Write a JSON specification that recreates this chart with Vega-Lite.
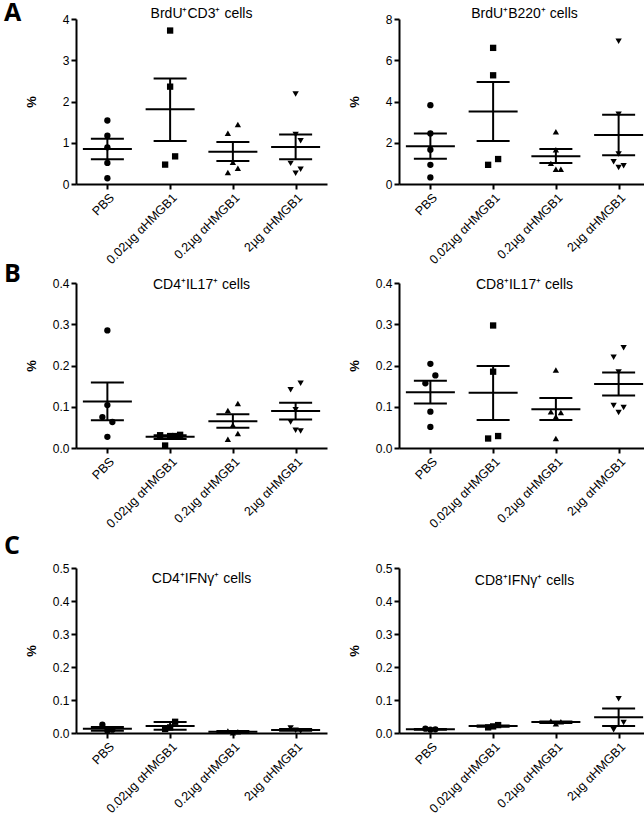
{
  "$schema": "https://vega.github.io/schema/vega-lite/v6.json",
  "padding": {"left": 4, "top": 1, "right": 0, "bottom": 0},
  "spacing": 3,
  "config": {
    "view": {"stroke": null},
    "font": "Liberation Sans",
    "axis": {"domainColor": "black", "domainWidth": 2, "tickColor": "black", "tickWidth": 2, "tickSize": 5, "labelColor": "black", "labelFontSize": 12, "labelFont": "Liberation Sans", "grid": false, "titleColor": "black", "labelOverlap": false},
    "axisY": {"minExtent": 26, "maxExtent": 26, "titlePadding": 12, "titleFontSize": 13, "titleFontWeight": "bold", "labelPadding": 2},
    "axisX": {"labelAngle": -45, "labelFontSize": 12.5},
    "title": {"fontSize": 14, "fontWeight": "normal", "color": "black", "font": "Liberation Sans"}
  },
  "datasets": {
    "pts": [
      {"p": 1, "g": "PBS", "v": 1.54, "o": 0}, {"p": 1, "g": "PBS", "v": 1.17, "o": 0}, {"p": 1, "g": "PBS", "v": 0.89, "o": 0}, {"p": 1, "g": "PBS", "v": 0.51, "o": 0}, {"p": 1, "g": "PBS", "v": 0.14, "o": 0},
      {"p": 1, "g": "0.02µg αHMGB1", "v": 3.72, "o": 0}, {"p": 1, "g": "0.02µg αHMGB1", "v": 2.36, "o": 0}, {"p": 1, "g": "0.02µg αHMGB1", "v": 0.67, "o": 1}, {"p": 1, "g": "0.02µg αHMGB1", "v": 0.47, "o": -1},
      {"p": 1, "g": "0.2µg αHMGB1", "v": 1.44, "o": 1}, {"p": 1, "g": "0.2µg αHMGB1", "v": 1.23, "o": -1}, {"p": 1, "g": "0.2µg αHMGB1", "v": 0.53, "o": 0}, {"p": 1, "g": "0.2µg αHMGB1", "v": 0.28, "o": -1}, {"p": 1, "g": "0.2µg αHMGB1", "v": 0.38, "o": 1},
      {"p": 1, "g": "2µg αHMGB1", "v": 2.18, "o": 0}, {"p": 1, "g": "2µg αHMGB1", "v": 1.20, "o": 0}, {"p": 1, "g": "2µg αHMGB1", "v": 1.05, "o": 1}, {"p": 1, "g": "2µg αHMGB1", "v": 0.50, "o": -1}, {"p": 1, "g": "2µg αHMGB1", "v": 0.26, "o": 0}, {"p": 1, "g": "2µg αHMGB1", "v": 0.36, "o": 1},

      {"p": 2, "g": "PBS", "v": 3.82, "o": 0}, {"p": 2, "g": "PBS", "v": 2.45, "o": 0}, {"p": 2, "g": "PBS", "v": 1.66, "o": 0}, {"p": 2, "g": "PBS", "v": 0.93, "o": 0}, {"p": 2, "g": "PBS", "v": 0.32, "o": 0},
      {"p": 2, "g": "0.02µg αHMGB1", "v": 6.6, "o": 0}, {"p": 2, "g": "0.02µg αHMGB1", "v": 5.27, "o": 0}, {"p": 2, "g": "0.02µg αHMGB1", "v": 1.21, "o": 1}, {"p": 2, "g": "0.02µg αHMGB1", "v": 0.93, "o": -1},
      {"p": 2, "g": "0.2µg αHMGB1", "v": 2.53, "o": 0}, {"p": 2, "g": "0.2µg αHMGB1", "v": 1.66, "o": 0}, {"p": 2, "g": "0.2µg αHMGB1", "v": 1.0, "o": -1}, {"p": 2, "g": "0.2µg αHMGB1", "v": 0.72, "o": 0}, {"p": 2, "g": "0.2µg αHMGB1", "v": 0.72, "o": 1},
      {"p": 2, "g": "2µg αHMGB1", "v": 6.92, "o": 0}, {"p": 2, "g": "2µg αHMGB1", "v": 3.38, "o": 0}, {"p": 2, "g": "2µg αHMGB1", "v": 1.45, "o": 0}, {"p": 2, "g": "2µg αHMGB1", "v": 1.08, "o": -1}, {"p": 2, "g": "2µg αHMGB1", "v": 0.80, "o": 0}, {"p": 2, "g": "2µg αHMGB1", "v": 0.88, "o": 1},

      {"p": 3, "g": "PBS", "v": 0.285, "o": 0}, {"p": 3, "g": "PBS", "v": 0.104, "o": 0}, {"p": 3, "g": "PBS", "v": 0.075, "o": -1}, {"p": 3, "g": "PBS", "v": 0.063, "o": 1}, {"p": 3, "g": "PBS", "v": 0.027, "o": 0},
      {"p": 3, "g": "0.02µg αHMGB1", "v": 0.031, "o": -2}, {"p": 3, "g": "0.02µg αHMGB1", "v": 0.029, "o": 0}, {"p": 3, "g": "0.02µg αHMGB1", "v": 0.029, "o": 1}, {"p": 3, "g": "0.02µg αHMGB1", "v": 0.032, "o": 2}, {"p": 3, "g": "0.02µg αHMGB1", "v": 0.006, "o": -1},
      {"p": 3, "g": "0.2µg αHMGB1", "v": 0.108, "o": 1}, {"p": 3, "g": "0.2µg αHMGB1", "v": 0.091, "o": -1}, {"p": 3, "g": "0.2µg αHMGB1", "v": 0.056, "o": 0}, {"p": 3, "g": "0.2µg αHMGB1", "v": 0.035, "o": 1}, {"p": 3, "g": "0.2µg αHMGB1", "v": 0.021, "o": -1},
      {"p": 3, "g": "2µg αHMGB1", "v": 0.157, "o": 1}, {"p": 3, "g": "2µg αHMGB1", "v": 0.141, "o": -1}, {"p": 3, "g": "2µg αHMGB1", "v": 0.093, "o": 0}, {"p": 3, "g": "2µg αHMGB1", "v": 0.063, "o": -1}, {"p": 3, "g": "2µg αHMGB1", "v": 0.043, "o": 0}, {"p": 3, "g": "2µg αHMGB1", "v": 0.041, "o": 1},

      {"p": 4, "g": "PBS", "v": 0.204, "o": 0}, {"p": 4, "g": "PBS", "v": 0.176, "o": 1}, {"p": 4, "g": "PBS", "v": 0.157, "o": -1}, {"p": 4, "g": "PBS", "v": 0.088, "o": 0}, {"p": 4, "g": "PBS", "v": 0.051, "o": 0},
      {"p": 4, "g": "0.02µg αHMGB1", "v": 0.297, "o": 0}, {"p": 4, "g": "0.02µg αHMGB1", "v": 0.185, "o": 0}, {"p": 4, "g": "0.02µg αHMGB1", "v": 0.029, "o": 1}, {"p": 4, "g": "0.02µg αHMGB1", "v": 0.023, "o": -1},
      {"p": 4, "g": "0.2µg αHMGB1", "v": 0.189, "o": 0}, {"p": 4, "g": "0.2µg αHMGB1", "v": 0.088, "o": -1}, {"p": 4, "g": "0.2µg αHMGB1", "v": 0.076, "o": 0}, {"p": 4, "g": "0.2µg αHMGB1", "v": 0.086, "o": 1}, {"p": 4, "g": "0.2µg αHMGB1", "v": 0.023, "o": 0},
      {"p": 4, "g": "2µg αHMGB1", "v": 0.243, "o": 1}, {"p": 4, "g": "2µg αHMGB1", "v": 0.220, "o": -1}, {"p": 4, "g": "2µg αHMGB1", "v": 0.184, "o": 0}, {"p": 4, "g": "2µg αHMGB1", "v": 0.103, "o": -1}, {"p": 4, "g": "2µg αHMGB1", "v": 0.086, "o": 0}, {"p": 4, "g": "2µg αHMGB1", "v": 0.098, "o": 1},

      {"p": 5, "g": "PBS", "v": 0.025, "o": -1}, {"p": 5, "g": "PBS", "v": 0.007, "o": 0}, {"p": 5, "g": "PBS", "v": 0.010, "o": 1},
      {"p": 5, "g": "0.02µg αHMGB1", "v": 0.034, "o": 1}, {"p": 5, "g": "0.02µg αHMGB1", "v": 0.012, "o": -1}, {"p": 5, "g": "0.02µg αHMGB1", "v": 0.017, "o": 0},
      {"p": 5, "g": "0.2µg αHMGB1", "v": 0.006, "o": -1}, {"p": 5, "g": "0.2µg αHMGB1", "v": 0.001, "o": 0}, {"p": 5, "g": "0.2µg αHMGB1", "v": 0.004, "o": 1},
      {"p": 5, "g": "2µg αHMGB1", "v": 0.015, "o": -1}, {"p": 5, "g": "2µg αHMGB1", "v": 0.008, "o": 0}, {"p": 5, "g": "2µg αHMGB1", "v": 0.006, "o": 1},

      {"p": 6, "g": "PBS", "v": 0.013, "o": -1}, {"p": 6, "g": "PBS", "v": 0.010, "o": 0}, {"p": 6, "g": "PBS", "v": 0.011, "o": 1},
      {"p": 6, "g": "0.02µg αHMGB1", "v": 0.024, "o": 1}, {"p": 6, "g": "0.02µg αHMGB1", "v": 0.017, "o": -1}, {"p": 6, "g": "0.02µg αHMGB1", "v": 0.020, "o": 0},
      {"p": 6, "g": "0.2µg αHMGB1", "v": 0.036, "o": -1}, {"p": 6, "g": "0.2µg αHMGB1", "v": 0.034, "o": 1}, {"p": 6, "g": "0.2µg αHMGB1", "v": 0.028, "o": 0},
      {"p": 6, "g": "2µg αHMGB1", "v": 0.104, "o": 0}, {"p": 6, "g": "2µg αHMGB1", "v": 0.032, "o": 1}, {"p": 6, "g": "2µg αHMGB1", "v": 0.010, "o": -1}
    ],
    "sum": [
      {"p": 1, "g": "PBS", "m": 0.85, "lo": 0.60, "hi": 1.10},
      {"p": 1, "g": "0.02µg αHMGB1", "m": 1.81, "lo": 1.04, "hi": 2.56},
      {"p": 1, "g": "0.2µg αHMGB1", "m": 0.78, "lo": 0.56, "hi": 1.02},
      {"p": 1, "g": "2µg αHMGB1", "m": 0.90, "lo": 0.60, "hi": 1.20},
      {"p": 2, "g": "PBS", "m": 1.83, "lo": 1.22, "hi": 2.45},
      {"p": 2, "g": "0.02µg αHMGB1", "m": 3.51, "lo": 2.08, "hi": 4.95},
      {"p": 2, "g": "0.2µg αHMGB1", "m": 1.35, "lo": 1.02, "hi": 1.70},
      {"p": 2, "g": "2µg αHMGB1", "m": 2.38, "lo": 1.40, "hi": 3.36},
      {"p": 3, "g": "PBS", "m": 0.113, "lo": 0.067, "hi": 0.159},
      {"p": 3, "g": "0.02µg αHMGB1", "m": 0.027, "lo": 0.022, "hi": 0.031},
      {"p": 3, "g": "0.2µg αHMGB1", "m": 0.065, "lo": 0.049, "hi": 0.082},
      {"p": 3, "g": "2µg αHMGB1", "m": 0.090, "lo": 0.069, "hi": 0.110},
      {"p": 4, "g": "PBS", "m": 0.135, "lo": 0.108, "hi": 0.163},
      {"p": 4, "g": "0.02µg αHMGB1", "m": 0.134, "lo": 0.068, "hi": 0.199},
      {"p": 4, "g": "0.2µg αHMGB1", "m": 0.094, "lo": 0.068, "hi": 0.121},
      {"p": 4, "g": "2µg αHMGB1", "m": 0.155, "lo": 0.127, "hi": 0.183},
      {"p": 5, "g": "PBS", "m": 0.013, "lo": 0.007, "hi": 0.018},
      {"p": 5, "g": "0.02µg αHMGB1", "m": 0.021, "lo": 0.010, "hi": 0.033},
      {"p": 5, "g": "0.2µg αHMGB1", "m": 0.004, "lo": 0.002, "hi": 0.006},
      {"p": 5, "g": "2µg αHMGB1", "m": 0.009, "lo": 0.007, "hi": 0.012},
      {"p": 6, "g": "PBS", "m": 0.011, "lo": 0.010, "hi": 0.012},
      {"p": 6, "g": "0.02µg αHMGB1", "m": 0.021, "lo": 0.019, "hi": 0.023},
      {"p": 6, "g": "0.2µg αHMGB1", "m": 0.033, "lo": 0.030, "hi": 0.035},
      {"p": 6, "g": "2µg αHMGB1", "m": 0.048, "lo": 0.021, "hi": 0.074}
    ]
  },
  "vconcat": [
    {
      "spacing": -5,
      "vconcat": [
        {
          "title": {"text": "A", "anchor": "start", "frame": "group", "fontSize": 25, "fontWeight": "bold", "font": "Open Sans", "dx": -72, "offset": -19},
          "spacing": 21,
          "hconcat": [
            {
              "width": 251, "height": 165,
              "title": {"text": "BrdU⁺CD3⁺ cells", "offset": -8},
              "layer": [
                {"data": {"name": "pts"}, "transform": [{"filter": "datum.p == 1"}],
                 "mark": {"type": "point", "filled": true, "size": 40, "opacity": 1, "color": "black"},
                 "encoding": {
                   "x": {"field": "g", "type": "nominal", "title": null, "sort": ["PBS", "0.02µg αHMGB1", "0.2µg αHMGB1", "2µg αHMGB1"], "scale": {"type": "point", "padding": 0.5}},
                   "xOffset": {"field": "o", "type": "quantitative", "scale": {"domain": [-2, 2], "range": [-10, 10]}},
                   "y": {"field": "v", "type": "quantitative", "title": "%", "scale": {"domain": [0, 4], "nice": false}, "axis": {"values": [0, 1, 2, 3, 4], "format": "d"}},
                   "shape": {"field": "g", "type": "nominal", "scale": {"domain": ["PBS", "0.02µg αHMGB1", "0.2µg αHMGB1", "2µg αHMGB1"], "range": ["circle", "square", "triangle-up", "triangle-down"]}, "legend": null}
                 }},
                {"data": {"name": "sum"}, "transform": [{"filter": "datum.p == 1"}],
                 "mark": {"type": "rule", "strokeWidth": 2, "color": "black"},
                 "encoding": {"x": {"field": "g", "type": "nominal", "title": null, "sort": ["PBS", "0.02µg αHMGB1", "0.2µg αHMGB1", "2µg αHMGB1"]}, "y": {"field": "lo", "type": "quantitative", "title": "%", "axis": {"values": [0, 1, 2, 3, 4], "format": "d"}}, "y2": {"field": "hi"}}},
                {"data": {"name": "sum"}, "transform": [{"filter": "datum.p == 1"}],
                 "mark": {"type": "tick", "size": 49, "thickness": 2, "color": "black", "opacity": 1},
                 "encoding": {"x": {"field": "g", "type": "nominal", "title": null, "sort": ["PBS", "0.02µg αHMGB1", "0.2µg αHMGB1", "2µg αHMGB1"]}, "y": {"field": "m", "type": "quantitative", "title": "%", "axis": {"values": [0, 1, 2, 3, 4], "format": "d"}}}},
                {"data": {"name": "sum"}, "transform": [{"filter": "datum.p == 1"}],
                 "mark": {"type": "tick", "size": 33, "thickness": 2, "color": "black", "opacity": 1},
                 "encoding": {"x": {"field": "g", "type": "nominal", "title": null, "sort": ["PBS", "0.02µg αHMGB1", "0.2µg αHMGB1", "2µg αHMGB1"]}, "y": {"field": "lo", "type": "quantitative", "title": "%", "axis": {"values": [0, 1, 2, 3, 4], "format": "d"}}}},
                {"data": {"name": "sum"}, "transform": [{"filter": "datum.p == 1"}],
                 "mark": {"type": "tick", "size": 33, "thickness": 2, "color": "black", "opacity": 1},
                 "encoding": {"x": {"field": "g", "type": "nominal", "title": null, "sort": ["PBS", "0.02µg αHMGB1", "0.2µg αHMGB1", "2µg αHMGB1"]}, "y": {"field": "hi", "type": "quantitative", "title": "%", "axis": {"values": [0, 1, 2, 3, 4], "format": "d"}}}}
              ]
            },
            {
              "width": 251, "height": 165,
              "title": {"text": "BrdU⁺B220⁺ cells", "offset": -8},
              "layer": [
                {"data": {"name": "pts"}, "transform": [{"filter": "datum.p == 2"}],
                 "mark": {"type": "point", "filled": true, "size": 40, "opacity": 1, "color": "black"},
                 "encoding": {
                   "x": {"field": "g", "type": "nominal", "title": null, "sort": ["PBS", "0.02µg αHMGB1", "0.2µg αHMGB1", "2µg αHMGB1"], "scale": {"type": "point", "padding": 0.5}},
                   "xOffset": {"field": "o", "type": "quantitative", "scale": {"domain": [-2, 2], "range": [-10, 10]}},
                   "y": {"field": "v", "type": "quantitative", "title": "%", "scale": {"domain": [0, 8], "nice": false}, "axis": {"values": [0, 2, 4, 6, 8], "format": "d"}},
                   "shape": {"field": "g", "type": "nominal", "scale": {"domain": ["PBS", "0.02µg αHMGB1", "0.2µg αHMGB1", "2µg αHMGB1"], "range": ["circle", "square", "triangle-up", "triangle-down"]}, "legend": null}
                 }},
                {"data": {"name": "sum"}, "transform": [{"filter": "datum.p == 2"}],
                 "mark": {"type": "rule", "strokeWidth": 2, "color": "black"},
                 "encoding": {"x": {"field": "g", "type": "nominal", "title": null, "sort": ["PBS", "0.02µg αHMGB1", "0.2µg αHMGB1", "2µg αHMGB1"]}, "y": {"field": "lo", "type": "quantitative", "title": "%", "axis": {"values": [0, 2, 4, 6, 8], "format": "d"}}, "y2": {"field": "hi"}}},
                {"data": {"name": "sum"}, "transform": [{"filter": "datum.p == 2"}],
                 "mark": {"type": "tick", "size": 49, "thickness": 2, "color": "black", "opacity": 1},
                 "encoding": {"x": {"field": "g", "type": "nominal", "title": null, "sort": ["PBS", "0.02µg αHMGB1", "0.2µg αHMGB1", "2µg αHMGB1"]}, "y": {"field": "m", "type": "quantitative", "title": "%", "axis": {"values": [0, 2, 4, 6, 8], "format": "d"}}}},
                {"data": {"name": "sum"}, "transform": [{"filter": "datum.p == 2"}],
                 "mark": {"type": "tick", "size": 33, "thickness": 2, "color": "black", "opacity": 1},
                 "encoding": {"x": {"field": "g", "type": "nominal", "title": null, "sort": ["PBS", "0.02µg αHMGB1", "0.2µg αHMGB1", "2µg αHMGB1"]}, "y": {"field": "lo", "type": "quantitative", "title": "%", "axis": {"values": [0, 2, 4, 6, 8], "format": "d"}}}},
                {"data": {"name": "sum"}, "transform": [{"filter": "datum.p == 2"}],
                 "mark": {"type": "tick", "size": 33, "thickness": 2, "color": "black", "opacity": 1},
                 "encoding": {"x": {"field": "g", "type": "nominal", "title": null, "sort": ["PBS", "0.02µg αHMGB1", "0.2µg αHMGB1", "2µg αHMGB1"]}, "y": {"field": "hi", "type": "quantitative", "title": "%", "axis": {"values": [0, 2, 4, 6, 8], "format": "d"}}}}
              ]
            }
          ]
        },
        {
          "title": {"text": "B", "anchor": "start", "frame": "group", "fontSize": 25, "fontWeight": "bold", "font": "Open Sans", "dx": -72, "offset": -10},
          "spacing": 21,
          "hconcat": [
            {
              "width": 251, "height": 165,
              "title": {"text": "CD4⁺IL17⁺ cells", "offset": -15},
              "layer": [
                {"data": {"name": "pts"}, "transform": [{"filter": "datum.p == 3"}],
                 "mark": {"type": "point", "filled": true, "size": 40, "opacity": 1, "color": "black"},
                 "encoding": {
                   "x": {"field": "g", "type": "nominal", "title": null, "sort": ["PBS", "0.02µg αHMGB1", "0.2µg αHMGB1", "2µg αHMGB1"], "scale": {"type": "point", "padding": 0.5}},
                   "xOffset": {"field": "o", "type": "quantitative", "scale": {"domain": [-2, 2], "range": [-10, 10]}},
                   "y": {"field": "v", "type": "quantitative", "title": "%", "scale": {"domain": [0, 0.4], "nice": false}, "axis": {"values": [0, 0.1, 0.2, 0.3, 0.4], "format": ".1f"}},
                   "shape": {"field": "g", "type": "nominal", "scale": {"domain": ["PBS", "0.02µg αHMGB1", "0.2µg αHMGB1", "2µg αHMGB1"], "range": ["circle", "square", "triangle-up", "triangle-down"]}, "legend": null}
                 }},
                {"data": {"name": "sum"}, "transform": [{"filter": "datum.p == 3"}],
                 "mark": {"type": "rule", "strokeWidth": 2, "color": "black"},
                 "encoding": {"x": {"field": "g", "type": "nominal", "title": null, "sort": ["PBS", "0.02µg αHMGB1", "0.2µg αHMGB1", "2µg αHMGB1"]}, "y": {"field": "lo", "type": "quantitative", "title": "%", "axis": {"values": [0, 0.1, 0.2, 0.3, 0.4], "format": ".1f"}}, "y2": {"field": "hi"}}},
                {"data": {"name": "sum"}, "transform": [{"filter": "datum.p == 3"}],
                 "mark": {"type": "tick", "size": 49, "thickness": 2, "color": "black", "opacity": 1},
                 "encoding": {"x": {"field": "g", "type": "nominal", "title": null, "sort": ["PBS", "0.02µg αHMGB1", "0.2µg αHMGB1", "2µg αHMGB1"]}, "y": {"field": "m", "type": "quantitative", "title": "%", "axis": {"values": [0, 0.1, 0.2, 0.3, 0.4], "format": ".1f"}}}},
                {"data": {"name": "sum"}, "transform": [{"filter": "datum.p == 3"}],
                 "mark": {"type": "tick", "size": 33, "thickness": 2, "color": "black", "opacity": 1},
                 "encoding": {"x": {"field": "g", "type": "nominal", "title": null, "sort": ["PBS", "0.02µg αHMGB1", "0.2µg αHMGB1", "2µg αHMGB1"]}, "y": {"field": "lo", "type": "quantitative", "title": "%", "axis": {"values": [0, 0.1, 0.2, 0.3, 0.4], "format": ".1f"}}}},
                {"data": {"name": "sum"}, "transform": [{"filter": "datum.p == 3"}],
                 "mark": {"type": "tick", "size": 33, "thickness": 2, "color": "black", "opacity": 1},
                 "encoding": {"x": {"field": "g", "type": "nominal", "title": null, "sort": ["PBS", "0.02µg αHMGB1", "0.2µg αHMGB1", "2µg αHMGB1"]}, "y": {"field": "hi", "type": "quantitative", "title": "%", "axis": {"values": [0, 0.1, 0.2, 0.3, 0.4], "format": ".1f"}}}}
              ]
            },
            {
              "width": 251, "height": 165,
              "title": {"text": "CD8⁺IL17⁺ cells", "offset": -15},
              "layer": [
                {"data": {"name": "pts"}, "transform": [{"filter": "datum.p == 4"}],
                 "mark": {"type": "point", "filled": true, "size": 40, "opacity": 1, "color": "black"},
                 "encoding": {
                   "x": {"field": "g", "type": "nominal", "title": null, "sort": ["PBS", "0.02µg αHMGB1", "0.2µg αHMGB1", "2µg αHMGB1"], "scale": {"type": "point", "padding": 0.5}},
                   "xOffset": {"field": "o", "type": "quantitative", "scale": {"domain": [-2, 2], "range": [-10, 10]}},
                   "y": {"field": "v", "type": "quantitative", "title": "%", "scale": {"domain": [0, 0.4], "nice": false}, "axis": {"values": [0, 0.1, 0.2, 0.3, 0.4], "format": ".1f"}},
                   "shape": {"field": "g", "type": "nominal", "scale": {"domain": ["PBS", "0.02µg αHMGB1", "0.2µg αHMGB1", "2µg αHMGB1"], "range": ["circle", "square", "triangle-up", "triangle-down"]}, "legend": null}
                 }},
                {"data": {"name": "sum"}, "transform": [{"filter": "datum.p == 4"}],
                 "mark": {"type": "rule", "strokeWidth": 2, "color": "black"},
                 "encoding": {"x": {"field": "g", "type": "nominal", "title": null, "sort": ["PBS", "0.02µg αHMGB1", "0.2µg αHMGB1", "2µg αHMGB1"]}, "y": {"field": "lo", "type": "quantitative", "title": "%", "axis": {"values": [0, 0.1, 0.2, 0.3, 0.4], "format": ".1f"}}, "y2": {"field": "hi"}}},
                {"data": {"name": "sum"}, "transform": [{"filter": "datum.p == 4"}],
                 "mark": {"type": "tick", "size": 49, "thickness": 2, "color": "black", "opacity": 1},
                 "encoding": {"x": {"field": "g", "type": "nominal", "title": null, "sort": ["PBS", "0.02µg αHMGB1", "0.2µg αHMGB1", "2µg αHMGB1"]}, "y": {"field": "m", "type": "quantitative", "title": "%", "axis": {"values": [0, 0.1, 0.2, 0.3, 0.4], "format": ".1f"}}}},
                {"data": {"name": "sum"}, "transform": [{"filter": "datum.p == 4"}],
                 "mark": {"type": "tick", "size": 33, "thickness": 2, "color": "black", "opacity": 1},
                 "encoding": {"x": {"field": "g", "type": "nominal", "title": null, "sort": ["PBS", "0.02µg αHMGB1", "0.2µg αHMGB1", "2µg αHMGB1"]}, "y": {"field": "lo", "type": "quantitative", "title": "%", "axis": {"values": [0, 0.1, 0.2, 0.3, 0.4], "format": ".1f"}}}},
                {"data": {"name": "sum"}, "transform": [{"filter": "datum.p == 4"}],
                 "mark": {"type": "tick", "size": 33, "thickness": 2, "color": "black", "opacity": 1},
                 "encoding": {"x": {"field": "g", "type": "nominal", "title": null, "sort": ["PBS", "0.02µg αHMGB1", "0.2µg αHMGB1", "2µg αHMGB1"]}, "y": {"field": "hi", "type": "quantitative", "title": "%", "axis": {"values": [0, 0.1, 0.2, 0.3, 0.4], "format": ".1f"}}}}
              ]
            }
          ]
        }
      ]
    },
    {
      "title": {"text": "C", "anchor": "start", "frame": "group", "fontSize": 25, "fontWeight": "bold", "font": "Open Sans", "dx": -72, "offset": 3},
      "spacing": 21,
      "hconcat": [
        {
          "width": 251, "height": 165,
          "title": {"text": "CD4⁺IFNγ⁺ cells", "offset": -24},
          "layer": [
            {"data": {"name": "pts"}, "transform": [{"filter": "datum.p == 5"}],
             "mark": {"type": "point", "filled": true, "size": 40, "opacity": 1, "color": "black"},
             "encoding": {
               "x": {"field": "g", "type": "nominal", "title": null, "sort": ["PBS", "0.02µg αHMGB1", "0.2µg αHMGB1", "2µg αHMGB1"], "scale": {"type": "point", "padding": 0.5}},
               "xOffset": {"field": "o", "type": "quantitative", "scale": {"domain": [-2, 2], "range": [-10, 10]}},
               "y": {"field": "v", "type": "quantitative", "title": "%", "scale": {"domain": [0, 0.5], "nice": false}, "axis": {"values": [0, 0.1, 0.2, 0.3, 0.4, 0.5], "format": ".1f"}},
               "shape": {"field": "g", "type": "nominal", "scale": {"domain": ["PBS", "0.02µg αHMGB1", "0.2µg αHMGB1", "2µg αHMGB1"], "range": ["circle", "square", "triangle-up", "triangle-down"]}, "legend": null}
             }},
            {"data": {"name": "sum"}, "transform": [{"filter": "datum.p == 5"}],
             "mark": {"type": "rule", "strokeWidth": 2, "color": "black"},
             "encoding": {"x": {"field": "g", "type": "nominal", "title": null, "sort": ["PBS", "0.02µg αHMGB1", "0.2µg αHMGB1", "2µg αHMGB1"]}, "y": {"field": "lo", "type": "quantitative", "title": "%", "axis": {"values": [0, 0.1, 0.2, 0.3, 0.4, 0.5], "format": ".1f"}}, "y2": {"field": "hi"}}},
            {"data": {"name": "sum"}, "transform": [{"filter": "datum.p == 5"}],
             "mark": {"type": "tick", "size": 49, "thickness": 2, "color": "black", "opacity": 1},
             "encoding": {"x": {"field": "g", "type": "nominal", "title": null, "sort": ["PBS", "0.02µg αHMGB1", "0.2µg αHMGB1", "2µg αHMGB1"]}, "y": {"field": "m", "type": "quantitative", "title": "%", "axis": {"values": [0, 0.1, 0.2, 0.3, 0.4, 0.5], "format": ".1f"}}}},
            {"data": {"name": "sum"}, "transform": [{"filter": "datum.p == 5"}],
             "mark": {"type": "tick", "size": 33, "thickness": 2, "color": "black", "opacity": 1},
             "encoding": {"x": {"field": "g", "type": "nominal", "title": null, "sort": ["PBS", "0.02µg αHMGB1", "0.2µg αHMGB1", "2µg αHMGB1"]}, "y": {"field": "lo", "type": "quantitative", "title": "%", "axis": {"values": [0, 0.1, 0.2, 0.3, 0.4, 0.5], "format": ".1f"}}}},
            {"data": {"name": "sum"}, "transform": [{"filter": "datum.p == 5"}],
             "mark": {"type": "tick", "size": 33, "thickness": 2, "color": "black", "opacity": 1},
             "encoding": {"x": {"field": "g", "type": "nominal", "title": null, "sort": ["PBS", "0.02µg αHMGB1", "0.2µg αHMGB1", "2µg αHMGB1"]}, "y": {"field": "hi", "type": "quantitative", "title": "%", "axis": {"values": [0, 0.1, 0.2, 0.3, 0.4, 0.5], "format": ".1f"}}}}
          ]
        },
        {
          "width": 251, "height": 165,
          "title": {"text": "CD8⁺IFNγ⁺ cells", "offset": -26},
          "layer": [
            {"data": {"name": "pts"}, "transform": [{"filter": "datum.p == 6"}],
             "mark": {"type": "point", "filled": true, "size": 40, "opacity": 1, "color": "black"},
             "encoding": {
               "x": {"field": "g", "type": "nominal", "title": null, "sort": ["PBS", "0.02µg αHMGB1", "0.2µg αHMGB1", "2µg αHMGB1"], "scale": {"type": "point", "padding": 0.5}},
               "xOffset": {"field": "o", "type": "quantitative", "scale": {"domain": [-2, 2], "range": [-10, 10]}},
               "y": {"field": "v", "type": "quantitative", "title": "%", "scale": {"domain": [0, 0.5], "nice": false}, "axis": {"values": [0, 0.1, 0.2, 0.3, 0.4, 0.5], "format": ".1f"}},
               "shape": {"field": "g", "type": "nominal", "scale": {"domain": ["PBS", "0.02µg αHMGB1", "0.2µg αHMGB1", "2µg αHMGB1"], "range": ["circle", "square", "triangle-up", "triangle-down"]}, "legend": null}
             }},
            {"data": {"name": "sum"}, "transform": [{"filter": "datum.p == 6"}],
             "mark": {"type": "rule", "strokeWidth": 2, "color": "black"},
             "encoding": {"x": {"field": "g", "type": "nominal", "title": null, "sort": ["PBS", "0.02µg αHMGB1", "0.2µg αHMGB1", "2µg αHMGB1"]}, "y": {"field": "lo", "type": "quantitative", "title": "%", "axis": {"values": [0, 0.1, 0.2, 0.3, 0.4, 0.5], "format": ".1f"}}, "y2": {"field": "hi"}}},
            {"data": {"name": "sum"}, "transform": [{"filter": "datum.p == 6"}],
             "mark": {"type": "tick", "size": 49, "thickness": 2, "color": "black", "opacity": 1},
             "encoding": {"x": {"field": "g", "type": "nominal", "title": null, "sort": ["PBS", "0.02µg αHMGB1", "0.2µg αHMGB1", "2µg αHMGB1"]}, "y": {"field": "m", "type": "quantitative", "title": "%", "axis": {"values": [0, 0.1, 0.2, 0.3, 0.4, 0.5], "format": ".1f"}}}},
            {"data": {"name": "sum"}, "transform": [{"filter": "datum.p == 6"}],
             "mark": {"type": "tick", "size": 33, "thickness": 2, "color": "black", "opacity": 1},
             "encoding": {"x": {"field": "g", "type": "nominal", "title": null, "sort": ["PBS", "0.02µg αHMGB1", "0.2µg αHMGB1", "2µg αHMGB1"]}, "y": {"field": "lo", "type": "quantitative", "title": "%", "axis": {"values": [0, 0.1, 0.2, 0.3, 0.4, 0.5], "format": ".1f"}}}},
            {"data": {"name": "sum"}, "transform": [{"filter": "datum.p == 6"}],
             "mark": {"type": "tick", "size": 33, "thickness": 2, "color": "black", "opacity": 1},
             "encoding": {"x": {"field": "g", "type": "nominal", "title": null, "sort": ["PBS", "0.02µg αHMGB1", "0.2µg αHMGB1", "2µg αHMGB1"]}, "y": {"field": "hi", "type": "quantitative", "title": "%", "axis": {"values": [0, 0.1, 0.2, 0.3, 0.4, 0.5], "format": ".1f"}}}}
          ]
        }
      ]
    }
  ]
}
